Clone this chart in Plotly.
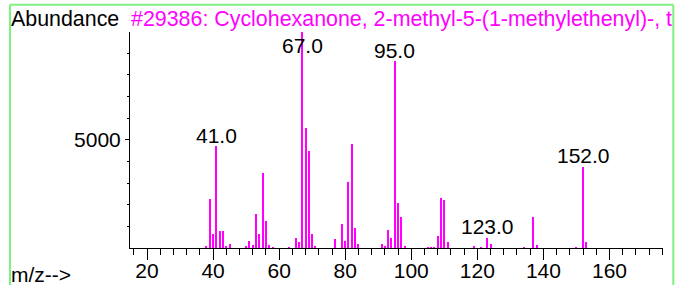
import plotly.graph_objects as go

# m/z values and abundances
mz = [38, 39, 40, 41, 42, 43, 44, 45, 50, 51, 52, 53, 54, 55, 56, 57, 58, 63,
      65, 66, 67, 68, 69, 70, 71, 77, 79, 80, 81, 82, 83, 84, 91, 92, 93, 94,
      95, 96, 97, 98, 105, 106, 107, 108, 109, 110, 111, 119, 121, 123, 124,
      134, 137, 138, 150, 152, 153]
abundance = [110, 2260, 660, 4690, 770, 770, 50, 170, 80, 310, 140, 1590, 630,
             3480, 1250, 125, 30, 30, 450, 260, 9950, 5530, 4500, 630, 80, 430,
             1120, 310, 3040, 4780, 910, 200, 170, 50, 820, 460, 8630, 2080,
             1420, 80, 30, 30, 40, 540, 2300, 2200, 260, 110, 40, 480, 200, 30,
             1450, 120, 40, 3750, 280]

labeled_peaks = [41, 67, 95, 123, 152]
peak_label_text = ["41.0", "67.0", "95.0", "123.0", "152.0"]

x_major_ticks = [20, 40, 60, 80, 100, 120, 140, 160]
y_major_ticks = [5000]
y_minor_ticks = [1000, 2000, 3000, 4000, 6000, 7000, 8000, 9000]

title_text = "#29386: Cyclohexanone, 2-methyl-5-(1-methylethenyl)-, t"

FONT = "Liberation Sans, Arial, sans-serif"
FS = 21
FS_TITLE = 21.4
MAGENTA = "#FF00FF"
GREEN = "#80F080"

fig = go.Figure()
fig.add_trace(go.Bar(x=mz, y=abundance, width=0.32,
                     marker=dict(color=MAGENTA, line=dict(width=0)),
                     hoverinfo="x+y"))

abund_map = dict(zip(mz, abundance))
ymax = max(abundance)
for m, t in zip(labeled_peaks, peak_label_text):
    v = abund_map[m]
    shift = 11 if v < ymax else -13
    fig.add_annotation(x=m, y=v, text=t, showarrow=False, xanchor="center",
                       yanchor="middle", yshift=shift,
                       font=dict(family=FONT, size=FS, color="black"))

W, H = 675, 285
L, R, T, B = 130, 12, 32, 37
pw, ph = W - L - R, H - T - B


def px_x(px):
    return (px - L) / pw


def px_y(py):
    return (H - B - py) / ph


fig.add_annotation(xref="paper", yref="paper", x=px_x(9), y=px_y(19.5),
                   text="Abundance", showarrow=False, xanchor="left",
                   yanchor="middle", font=dict(family=FONT, size=FS_TITLE, color="black"))
fig.add_annotation(xref="paper", yref="paper", x=px_x(129), y=px_y(19.5),
                   text=title_text, showarrow=False, xanchor="left",
                   yanchor="middle", font=dict(family=FONT, size=FS_TITLE, color=MAGENTA))
fig.add_annotation(xref="paper", yref="paper", x=px_x(9), y=px_y(274),
                   text="m/z-->", showarrow=False, xanchor="left",
                   yanchor="middle", font=dict(family=FONT, size=FS, color="black"))

# green frame lines
fig.add_shape(type="line", xref="paper", yref="paper", x0=px_x(10), x1=px_x(673.3),
              y0=px_y(4.7), y1=px_y(4.7), line=dict(color=GREEN, width=2))
fig.add_shape(type="line", xref="paper", yref="paper", x0=px_x(10), x1=px_x(10),
              y0=px_y(4.7), y1=px_y(290), line=dict(color=GREEN, width=2))
fig.add_shape(type="line", xref="paper", yref="paper", x0=px_x(673.3), x1=px_x(673.3),
              y0=px_y(4.7), y1=px_y(290), line=dict(color=GREEN, width=2))

fig.update_layout(
    width=W, height=H, autosize=False,
    margin=dict(l=L, r=R, t=T, b=B, pad=0, autoexpand=False),
    paper_bgcolor="white", plot_bgcolor="white",
    showlegend=False, bargap=0,
    font=dict(family=FONT, size=FS, color="black"),
    xaxis=dict(range=[14.85, 176.2], showgrid=False, zeroline=False,
               automargin=False,
               showline=True, linecolor="black", linewidth=1,
               tickmode="array", tickvals=x_major_ticks,
               ticktext=[str(v) for v in x_major_ticks],
               ticks="outside", ticklen=11, tickwidth=1, tickcolor="black",
               ticklabelstandoff=-7,
               minor=dict(dtick=4, tick0=0, ticks="outside", ticklen=6,
                          tickwidth=1, tickcolor="black"),
               tickfont=dict(family=FONT, size=FS, color="black")),
    yaxis=dict(range=[0, 9970], showgrid=False, zeroline=False,
               automargin=False,
               showline=True, linecolor="black", linewidth=1,
               tickmode="array", tickvals=y_major_ticks,
               ticktext=[str(v) for v in y_major_ticks],
               ticks="outside", ticklen=4, tickwidth=1, tickcolor="black",
               minor=dict(tickvals=y_minor_ticks, ticks="outside", ticklen=2.5,
                          tickwidth=1, tickcolor="black"),
               tickfont=dict(family=FONT, size=FS, color="black")),
)

# remove the default page margin so the 675x285 figure fills the window exactly
fig.write_html("out.html",
               config={"displayModeBar": False},
               post_script="document.body.style.margin='0';document.body.style.overflow='hidden';")
